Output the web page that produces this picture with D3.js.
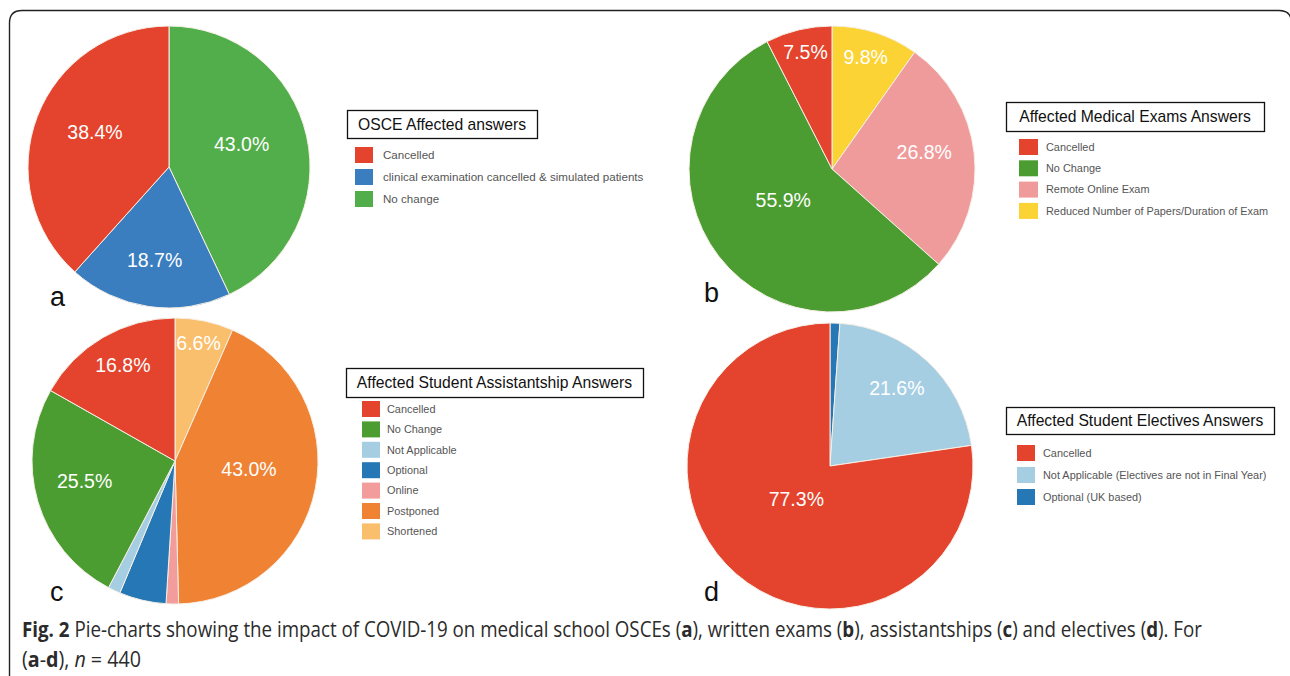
<!DOCTYPE html>
<html>
<head>
<meta charset="utf-8">
<script src="https://cdn.jsdelivr.net/npm/d3@7"></script>
<style>
  html, body { margin: 0; padding: 0; background: #fff; }
  svg { display: block; }
</style>
</head>
<body>
<svg id="fig" width="1290" height="676"></svg>
<script>
// Survey answers (percent of respondents), listed in legend order
const osceCategories = ["Cancelled", "clinical examination cancelled & simulated patients", "No change"];
const osceValues = [38.4, 18.7, 43.0];

const examCategories = ["Cancelled", "No Change", "Remote Online Exam", "Reduced Number of Papers/Duration of Exam"];
const examValues = [7.5, 55.9, 26.8, 9.8];

const assistCategories = ["Cancelled", "No Change", "Not Applicable", "Optional", "Online", "Postponed", "Shortened"];
const assistValues = [16.8, 25.5, 1.4, 5.3, 1.4, 43.0, 6.6];

const electiveCategories = ["Cancelled", "Not Applicable (Electives are not in Final Year)", "Optional (UK based)"];
const electiveValues = [77.3, 21.6, 1.1];

// Slice labels drawn only for the larger slices
const labelThreshold = 6;

const palette = {
  "Cancelled": "#e4432d",
  "clinical examination cancelled & simulated patients": "#3a7ebf",
  "No change": "#52ae4b",
  "No Change": "#4b9d31",
  "Remote Online Exam": "#f09b9b",
  "Reduced Number of Papers/Duration of Exam": "#fbd335",
  "Not Applicable": "#a6cee3",
  "Optional": "#2577b5",
  "Online": "#f39c9c",
  "Postponed": "#f08233",
  "Shortened": "#f9bf6d",
  "Not Applicable (Electives are not in Final Year)": "#a6cee3",
  "Optional (UK based)": "#2577b5"
};

const svg = d3.select("#fig");

// outer rounded frame
svg.append("path")
  .attr("d", "M9.5,700 L9.5,23 Q9.5,10.5 22,10.5 L1279,10.5 Q1291.5,10.5 1291.5,23 L1291.5,700")
  .attr("fill", "none")
  .attr("stroke", "#222")
  .attr("stroke-width", 1.4);

const panels = [
  { cats: osceCategories, vals: osceValues, cx: 169, cy: 167, r: 141, letter: "a", lx: 50, ly: 306,
    title: "OSCE Affected answers", box: [347, 110, 190, 28], sw: [355, 18, 16], tx: 383, rows: [155, 22], fs: 11.6 },
  { cats: examCategories, vals: examValues, cx: 832, cy: 169, r: 143, letter: "b", lx: 704, ly: 302,
    title: "Affected Medical Exams Answers", box: [1006, 102, 258, 29], sw: [1019, 19, 16], tx: 1046, rows: [147, 21.3], fs: 10.9 },
  { cats: assistCategories, vals: assistValues, cx: 175, cy: 461, r: 143, letter: "c", lx: 50, ly: 601,
    title: "Affected Student Assistantship Answers", box: [346, 368, 297, 29], sw: [362, 18, 16], tx: 387, rows: [409, 20.4], fs: 10.9 },
  { cats: electiveCategories, vals: electiveValues, cx: 830, cy: 466, r: 143, letter: "d", lx: 704, ly: 601,
    title: "Affected Student Electives Answers", box: [1006, 407, 268, 27], sw: [1017, 18, 16], tx: 1043, rows: [453, 22], fs: 10.9 }
];

panels.forEach(p => {
  const g = svg.append("g").attr("transform", `translate(${p.cx},${p.cy})`);
  // slices run clockwise from 12 o'clock in reverse legend order
  const entries = p.cats.map((c, i) => ({ cat: c, value: p.vals[i] })).reverse();
  const total = d3.sum(entries, d => d.value);
  const pie = d3.pie().sort(null).value(d => d.value);
  const arcs = pie(entries);
  const arc = d3.arc().innerRadius(0).outerRadius(p.r);

  g.selectAll("path.slice")
    .data(arcs)
    .join("path")
    .attr("class", "slice")
    .attr("d", arc)
    .attr("fill", d => palette[d.data.cat])
    .attr("stroke", "#f6efe6")
    .attr("stroke-width", 1);

  // labels sit further out on narrow slices, nearer the centre on wide ones
  g.selectAll("text.pct")
    .data(arcs.filter(d => d.data.value >= labelThreshold))
    .join("text")
    .attr("class", "pct")
    .attr("transform", d => {
      const f = d.data.value / total;
      const lr = p.r * Math.max(0.36, 0.85 - 0.75 * f);
      const a = (d.startAngle + d.endAngle) / 2;
      return `translate(${lr * Math.sin(a)},${-lr * Math.cos(a) - 6})`;
    })
    .attr("text-anchor", "middle")
    .attr("dy", "0.35em")
    .attr("fill", "#fff")
    .attr("font-family", "Liberation Sans, Arial, sans-serif")
    .attr("font-size", 19.5)
    .text(d => d.data.value.toFixed(1) + "%");

  // panel letter
  svg.append("text")
    .attr("x", p.lx).attr("y", p.ly)
    .attr("font-family", "Liberation Sans, Arial, sans-serif")
    .attr("font-size", 27)
    .attr("fill", "#111")
    .text(p.letter);

  // legend title box
  const [bx, by, bw, bh] = p.box;
  svg.append("rect")
    .attr("x", bx + 0.5).attr("y", by + 0.5)
    .attr("width", bw).attr("height", bh)
    .attr("fill", "#fff").attr("stroke", "#111").attr("stroke-width", 1.3);
  svg.append("text")
    .attr("x", bx + bw / 2).attr("y", by + bh / 2)
    .attr("dy", "0.36em")
    .attr("text-anchor", "middle")
    .attr("font-family", "Liberation Sans, Arial, sans-serif")
    .attr("font-size", 15.7)
    .attr("fill", "#111")
    .text(p.title);

  // legend swatches and entries
  const [sx, sww, swh] = p.sw;
  const rowY = d3.scalePoint().domain(p.cats).range([p.rows[0], p.rows[0] + p.rows[1] * (p.cats.length - 1)]);
  const items = svg.append("g").selectAll("g").data(p.cats).join("g")
    .attr("transform", d => `translate(0,${rowY(d)})`);
  items.append("rect")
    .attr("x", sx).attr("y", -swh / 2)
    .attr("width", sww).attr("height", swh)
    .attr("fill", d => palette[d]);
  items.append("text")
    .attr("x", p.tx).attr("y", 0).attr("dy", "0.35em")
    .attr("font-family", "Liberation Sans, Arial, sans-serif")
    .attr("font-size", p.fs)
    .attr("fill", "#555")
    .text(d => d);
});

// figure caption, condensed to the printed line width
function captionLine(y, parts, width) {
  const t = svg.append("text")
    .attr("font-family", "Open Sans, Noto Sans, sans-serif")
    .attr("font-size", 21)
    .attr("fill", "#2b2b2b");
  parts.forEach(([s, w, st]) => {
    t.append("tspan").attr("font-weight", w).attr("font-style", st || "normal").text(s);
  });
  const len = t.node().getComputedTextLength();
  t.attr("transform", `translate(22,${y}) scale(${width / len},1)`);
}
captionLine(637, [
  ["Fig. 2", "bold"], [" Pie-charts showing the impact of COVID-19 on medical school OSCEs (", "normal"],
  ["a", "bold"], ["), written exams (", "normal"], ["b", "bold"], ["), assistantships (", "normal"],
  ["c", "bold"], [") and electives (", "normal"], ["d", "bold"], ["). For", "normal"]
], 1181);
captionLine(667, [
  ["(", "normal"], ["a", "bold"], ["-", "normal"], ["d", "bold"], ["), ", "normal"],
  ["n", "normal", "italic"], [" = 440", "normal"]
], 119);
</script>
</body>
</html>
